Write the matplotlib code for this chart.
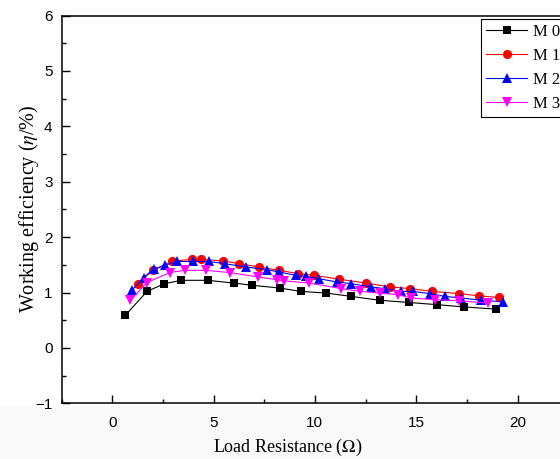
import matplotlib
matplotlib.use("Agg")
import matplotlib.pyplot as plt
from matplotlib.patches import Rectangle
from matplotlib.ticker import MultipleLocator

# ---- data ----
m0_x = [0.65, 1.72, 2.58, 3.42, 4.71, 6.01, 6.92, 8.27, 9.31, 10.55, 11.79, 13.19, 14.64, 16.04, 17.35, 18.93]
m0_y = [0.59, 1.02, 1.16, 1.22, 1.22, 1.17, 1.13, 1.08, 1.02, 0.99, 0.93, 0.86, 0.82, 0.78, 0.74, 0.70]

m1_x = [1.26, 2.01, 2.93, 3.92, 4.36, 5.48, 6.26, 7.25, 8.24, 9.19, 9.97, 11.21, 12.50, 13.73, 14.71, 15.78, 17.11, 18.10, 19.09]
m1_y = [1.16, 1.40, 1.56, 1.60, 1.60, 1.57, 1.52, 1.46, 1.40, 1.34, 1.31, 1.24, 1.17, 1.10, 1.07, 1.02, 0.98, 0.94, 0.91]

m2_x = [0.98, 1.55, 2.05, 2.59, 3.20, 4.00, 4.77, 5.56, 6.62, 7.66, 8.24, 9.06, 9.56, 10.18, 11.09, 11.79,
        12.78, 13.44, 14.26, 14.84, 15.66, 16.41, 17.23, 18.22, 19.29]
m2_y = [1.04, 1.27, 1.42, 1.49, 1.56, 1.56, 1.56, 1.52, 1.46, 1.41, 1.37, 1.31, 1.29, 1.25, 1.19, 1.16,
        1.10, 1.07, 1.02, 1.02, 0.98, 0.93, 0.90, 0.86, 0.83]

m3_x = [0.90, 1.72, 2.84, 3.57, 4.61, 5.80, 7.20, 8.12, 8.49, 9.72, 11.29, 12.25, 13.19, 14.09, 14.76, 15.91, 17.11, 18.55]
m3_y = [0.86, 1.18, 1.36, 1.40, 1.40, 1.36, 1.28, 1.23, 1.21, 1.17, 1.07, 1.02, 0.99, 0.96, 0.90, 0.87, 0.85, 0.81]

labels = ["M 0", "M 1", "M 2", "M 3"]
x_ticks = [0, 5, 10, 15, 20]
y_ticks = [-1, 0, 1, 2, 3, 4, 5, 6]

# ---- style ----
plt.rcParams['mathtext.fontset'] = 'stix'

W, H = 560, 459
fig = plt.figure(figsize=(W / 100, H / 100), dpi=100)
fig.patch.set_facecolor('white')
fig.patches.append(Rectangle((0, 0), 1, (H - 406) / H, transform=fig.transFigure,
                             facecolor='#f9f9f9', edgecolor='none', zorder=-10))

left_px, top_px, bottom_px = 61.5, 15.5, 403.3
xmin, xmax = -2.5, 25
px_per_unit = 20.27
right_px = left_px + (xmax - xmin) * px_per_unit
ax = fig.add_axes([left_px / W, (H - bottom_px) / H, (right_px - left_px) / W, (bottom_px - top_px) / H])

series = [
    (m0_x, m0_y, 'black', 's', 6.2),
    (m1_x, m1_y, 'red', 'o', 6.6),
    (m2_x, m2_y, 'blue', '^', 7.0),
    (m3_x, m3_y, 'magenta', 'v', 7.0),
]
handles = []
for (xs, ys, c, mk, ms), lab in zip(series, labels):
    h, = ax.plot(xs, ys, color=c, marker=mk, markersize=ms, lw=0.8,
                 markeredgewidth=0, label=lab)
    handles.append(h)

ax.set_xlim(xmin, xmax)
ax.set_ylim(-1, 6)
ax.set_xticks(x_ticks)
ax.set_yticks(y_ticks)
ax.xaxis.set_minor_locator(MultipleLocator(2.5))
ax.yaxis.set_minor_locator(MultipleLocator(0.5))
ax.tick_params(which='both', direction='in', top=False, right=False, width=1)
ax.tick_params(which='major', length=5.5)
ax.tick_params(which='minor', length=2.6)
ax.tick_params(axis='y', which='major', pad=6.5)
ax.tick_params(axis='x', which='major', pad=9)
for lab in ax.get_xticklabels() + ax.get_yticklabels():
    lab.set_fontfamily('Liberation Sans')
    lab.set_fontsize(11)
for s in ax.spines.values():
    s.set_linewidth(1.1)

fig.text(288 / W, 1 - 447 / H, r'Load Resistance ($\mathit{\Omega}$)', ha='center', va='center',
         fontsize=13, family='Liberation Serif')
fig.text(29 / W, 1 - 209 / H, r'Working efficiency ($\mathit{\eta}$/%)', ha='center', va='center',
         rotation=90, fontsize=14.5, family='Liberation Serif')

leg = fig.legend(handles=handles, loc='upper left',
                 bbox_to_anchor=(480.7 / W, 1 - 19.3 / H), bbox_transform=fig.transFigure,
                 prop={'family': 'Liberation Serif', 'size': 12},
                 frameon=True, fancybox=False, edgecolor='black', framealpha=1,
                 handlelength=2.5, handletextpad=0.35, labelspacing=0.47,
                 borderpad=0.3, borderaxespad=0)
leg.get_frame().set_linewidth(0.8)

fig.savefig('out.png', dpi=100)
